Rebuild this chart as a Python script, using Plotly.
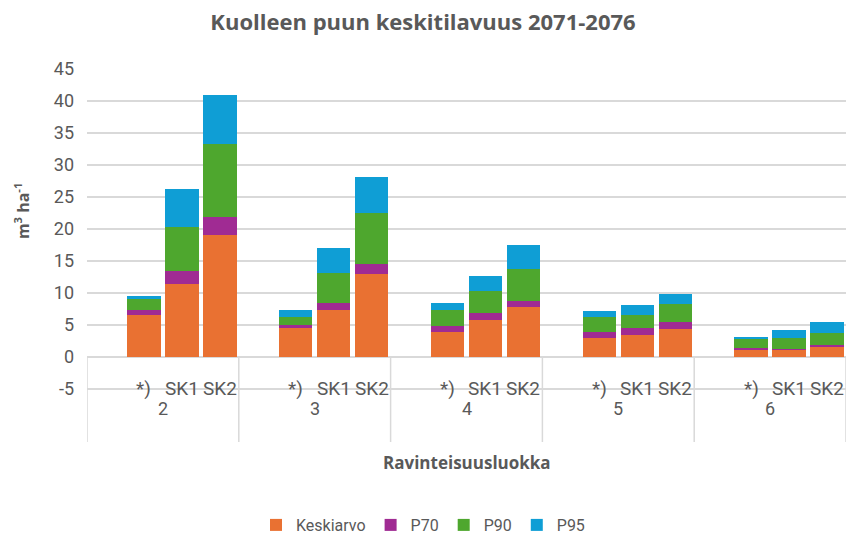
import plotly.graph_objects as go

# Ravinteisuusluokat (groups) and the three bars shown in each group
groups = ["2", "3", "4", "5", "6"]
subcats = ["*)", "SK1", "SK2"]

# Segment heights of the stacked bars (m3/ha), ordered group by group: *), SK1, SK2
keskiarvo = [6.5, 11.4, 19.1, 4.45, 7.35, 12.95, 3.9, 5.7, 7.8, 3.0, 3.4, 4.35, 1.2, 1.2, 1.65]
p70 = [0.9, 1.95, 2.7, 0.6, 1.15, 1.5, 1.0, 1.15, 1.0, 0.95, 1.15, 1.15, 0.27, 0.05, 0.2]
p90 = [1.6, 6.95, 11.5, 1.15, 4.6, 8.05, 2.5, 3.45, 4.9, 2.35, 2.05, 2.75, 1.33, 1.75, 1.9]
p95 = [0.5, 6.0, 7.6, 1.15, 4.0, 5.55, 1.0, 2.3, 3.8, 0.95, 1.45, 1.55, 0.35, 1.15, 1.75]

y_ticks = [-5, 0, 5, 10, 15, 20, 25, 30, 35, 40, 45]
y_ticktext = [str(v) for v in y_ticks]  # plain hyphen for negatives

series = [
    ("Keskiarvo", keskiarvo, "#E97132"),
    ("P70", p70, "#A02B93"),
    ("P90", p90, "#4EA72E"),
    ("P95", p95, "#0F9ED5"),
]

# Each group has four slots; the first one is left empty, bars sit in slots 1-3
slots = len(subcats) + 1
xpos = [g * slots + s + 1 for g in range(len(groups)) for s in range(len(subcats))]

GRAY = "#595959"
GRID = "#d9d9d9"
FONT = "Roboto"
Y_MIN = -13.3

fig = go.Figure()
for name, vals, color in series:
    fig.add_trace(go.Bar(
        x=xpos, y=vals, name=name,
        marker=dict(color=color, line=dict(width=0)),
        width=0.88,
    ))

# Vertical separators of the category axis
for g in range(len(groups) + 1):
    xb = g * slots - 0.5
    fig.add_shape(type="line", xref="x", yref="y", x0=xb, x1=xb, y0=0, y1=Y_MIN,
                  line=dict(color=GRID, width=1.5), layer="below")

# Category labels: sub-labels under bars, group labels beneath
for i, x in enumerate(xpos):
    fig.add_annotation(x=x, y=-5, xref="x", yref="y", text=subcats[i % len(subcats)],
                       showarrow=False, font=dict(family=FONT, size=19, color=GRAY))
for g, lab in enumerate(groups):
    fig.add_annotation(x=g * slots + (slots - 1) / 2, y=-8.0, xref="x", yref="y", text=lab,
                       showarrow=False, font=dict(family=FONT, size=18, color=GRAY))

# Axis titles
fig.add_annotation(x=0.5, y=-0.054, xref="paper", yref="paper", text="<b>Ravinteisuusluokka</b>",
                   showarrow=False, yanchor="middle",
                   font=dict(family="Open Sans", size=17, color=GRAY))
fig.add_annotation(x=0, y=0.619, xref="paper", yref="paper", xshift=-65,
                   text="<b>m<sup>3</sup> ha<sup>-1</sup></b>", textangle=-90,
                   showarrow=False, xanchor="center", yanchor="middle",
                   font=dict(family="Open Sans", size=16, color=GRAY))

fig.update_layout(
    width=846, height=535,
    margin=dict(l=87, r=0, t=69, b=93, autoexpand=False),
    paper_bgcolor="white", plot_bgcolor="white",
    barmode="stack",
    title=dict(text="<b>Kuolleen puun keskitilavuus 2071-2076</b>", x=0.5, xref="container",
               xanchor="center", y=1 - 22 / 535, yanchor="middle",
               font=dict(family="Open Sans", size=22, color=GRAY)),
    xaxis=dict(range=[-0.5, len(groups) * slots - 0.5], showticklabels=False, showgrid=False,
               zeroline=False, showline=False, ticks="", automargin=False),
    yaxis=dict(range=[Y_MIN, 45], tickvals=y_ticks, ticktext=y_ticktext, showgrid=True,
               gridcolor=GRID, gridwidth=1.5, automargin=False,
               zeroline=True, zerolinecolor=GRID, zerolinewidth=1.5, showline=False, ticks="",
               ticklabelstandoff=12,
               tickfont=dict(family=FONT, size=18, color=GRAY)),
    legend=dict(orientation="h", x=(423 - 87) / 759, xanchor="center", y=(442 - 525) / 373,
                yanchor="middle", font=dict(family=FONT, size=16, color=GRAY),
                traceorder="normal", itemwidth=30),
    showlegend=True,
)

fig.write_html("out.html")
